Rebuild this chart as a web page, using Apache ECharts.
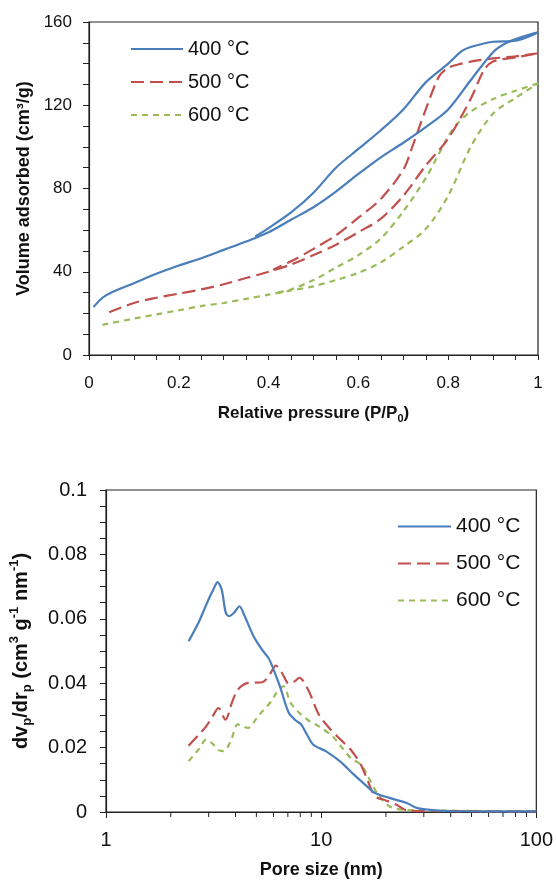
<!DOCTYPE html>
<html>
<head>
<meta charset="utf-8">
<script src="https://cdn.jsdelivr.net/npm/echarts@6/dist/echarts.min.js"></script>
<style>
  html, body { margin: 0; padding: 0; background: #fff; }
  #main { width: 556px; height: 880px; }
</style>
</head>
<body>
<div id="main"></div>
<script>
// --- isotherms (top) ---
var p400ads = [0.01,0.03,0.05,0.1,0.15,0.2,0.25,0.3,0.35,0.4,0.45,0.5,0.55,0.6,0.65,0.7,0.75,0.8,0.85,0.9,0.93,0.96,1.0];
var v400ads = [23,27.5,30,34.5,39,43,46.5,50.5,54.5,59,65,71,78.5,87,95,102,109.5,118,132,145.5,150,152.5,155];
var p400des = [1.0,0.95,0.9,0.85,0.83,0.8,0.75,0.7,0.65,0.6,0.55,0.5,0.45,0.4,0.37];
var v400des = [155,151,150.5,148,146,140,131,118,108,99,90,78,68.5,61,57];

var p500ads = [0.045,0.1,0.15,0.2,0.25,0.3,0.35,0.4,0.45,0.5,0.55,0.6,0.65,0.7,0.75,0.8,0.85,0.88,0.9,0.95,1.0];
var v500ads = [20.5,25,27.5,29.5,31.5,34,37,40,43.5,48,53,59,65.5,76.5,91,104,123,137,141,143,145];
var p500des = [1.0,0.95,0.9,0.85,0.83,0.8,0.78,0.75,0.72,0.7,0.65,0.6,0.55,0.5,0.45,0.41];
var v500des = [145,143.5,142.5,141,140,138,134,118,100,89,75,66,57.5,51,45,41];

var p600ads = [0.03,0.1,0.15,0.2,0.25,0.3,0.35,0.4,0.45,0.5,0.55,0.6,0.65,0.7,0.75,0.8,0.85,0.9,0.95,1.0];
var v600ads = [14.5,17.5,19.5,21.5,23.5,25,27,29,31,33,36,39.5,44.5,52,60.5,76.5,100,116,123.5,130.5];
var p600des = [1.0,0.95,0.9,0.85,0.82,0.8,0.75,0.7,0.65,0.6,0.55,0.5,0.45,0.42];
var v600des = [130.5,127,123,117,111,105,85,69,56,48,42,36,31.5,30];

// --- pore size distribution (bottom) ---
var d400 = [2.42,2.7,2.95,3.15,3.3,3.45,3.6,3.73,3.95,4.17,4.4,4.85,5.3,5.74,6.43,7.07,7.6,8.07,8.6,9.2,10.5,12.2,14.2,16,17.8,20.7,25,28,34,40,60,100];
var f400 = [0.053,0.059,0.065,0.069,0.0714,0.069,0.062,0.0608,0.062,0.0639,0.061,0.0546,0.0505,0.0474,0.039,0.0308,0.0285,0.0272,0.024,0.0209,0.0189,0.0158,0.0116,0.0085,0.0059,0.0044,0.0028,0.0012,0.0005,0.0003,0.0002,0.0002];
var d500 = [2.42,2.7,2.92,3.15,3.33,3.59,3.85,4.1,4.58,5.33,5.8,6.15,6.6,7.07,7.5,7.92,8.7,9.75,10.9,12.3,13.7,15.3,16.5,17.8,20,22.3,25,30,40,60,100];
var f500 = [0.0206,0.024,0.0266,0.03,0.0323,0.0287,0.034,0.038,0.0401,0.0403,0.043,0.0455,0.043,0.0399,0.0405,0.0417,0.038,0.0303,0.0261,0.0225,0.0194,0.0147,0.0095,0.0049,0.0036,0.0023,0.0005,0.0003,0.0003,0.0002,0.0002];
var d600 = [2.42,2.7,2.92,3.15,3.33,3.52,3.8,4.1,4.58,5.0,5.33,5.8,6.2,6.68,7.2,7.77,8.7,9.75,11.3,12.5,13.7,15.3,16.5,18.2,20.7,24,30,40,60,100];
var f600 = [0.0158,0.0195,0.0225,0.021,0.0192,0.0189,0.022,0.0272,0.0261,0.029,0.0313,0.034,0.037,0.0391,0.034,0.0313,0.0285,0.0266,0.0235,0.02,0.0168,0.0147,0.011,0.0059,0.0018,0.0007,0.0005,0.0004,0.0003,0.0003];
var logMinorTicks = [2,3,4,5,6,7,8,9,20,30,40,50,60,70,80,90];

var names = ['400 °C', '500 °C', '600 °C'];
var colors = ['#4a7ebb', '#c0504d', '#9bbb59'];
var dashes = ['solid', [13, 6], [6, 5]];

function zip(a, b) {
  var out = [];
  for (var i = 0; i < a.length; i++) out.push([a[i], b[i]]);
  return out;
}

function lineSeries(idx, xi, yi, data) {
  return {
    name: names[idx],
    type: 'line',
    xAxisIndex: xi,
    yAxisIndex: yi,
    data: data,
    smooth: 0.3,
    symbol: 'none',
    color: colors[idx],
    lineStyle: { color: colors[idx], width: 2.2, type: dashes[idx] },
    z: 3 - idx
  };
}

var axisCol = '#222';
var font = 'Liberation Sans, Arial, sans-serif';

var option = {
  animation: false,
  backgroundColor: '#fff',
  textStyle: { fontFamily: font, color: '#111' },
  grid: [
    { left: 89, right: 18, top: 22, height: 333, show: true, borderColor: axisCol, borderWidth: 1.2 },
    { left: 105, right: 16, top: 490, height: 322, show: true, borderColor: axisCol, borderWidth: 1.2 }
  ],
  legend: [
    {
      orient: 'vertical', left: 125, top: 34,
      itemWidth: 52, itemHeight: 20, itemGap: 13,
      itemStyle: { opacity: 0 },
      data: names,
      textStyle: { fontSize: 20, color: '#111', fontFamily: font }
    },
    {
      orient: 'vertical', left: 392, top: 511,
      itemWidth: 53, itemHeight: 20, itemGap: 16,
      itemStyle: { opacity: 0 },
      data: names,
      textStyle: { fontSize: 21, color: '#111', fontFamily: font }
    }
  ],
  xAxis: [
    {
      gridIndex: 0, type: 'value', min: 0, max: 1, interval: 0.2,
      axisLine: { lineStyle: { color: axisCol, width: 1.2 } },
      axisTick: { length: 5, lineStyle: { color: axisCol } },
      minorTick: { show: true, splitNumber: 4, length: 5, lineStyle: { color: axisCol } },
      splitLine: { show: false },
      axisLabel: { fontSize: 17, color: '#111', margin: 20 },
      name: '{b|Relative pressure (P/P}{s|0}{b|)}',
      nameLocation: 'middle', nameGap: 47, nameMoveOverlap: false,
      nameTextStyle: {
        rich: {
          b: { fontSize: 17, fontWeight: 'bold', color: '#111', lineHeight: 22, verticalAlign: 'middle' },
          s: { fontSize: 11, fontWeight: 'bold', color: '#111', lineHeight: 22, verticalAlign: 'bottom' }
        }
      }
    },
    {
      gridIndex: 1, type: 'log', logBase: 10, min: 1, max: 100,
      axisLine: { lineStyle: { color: axisCol, width: 1.2 } },
      axisTick: { length: 6, lineStyle: { color: axisCol } },
      splitLine: { show: false },
      axisLabel: { fontSize: 20, color: '#111', margin: 18 },
      name: 'Pore size (nm)',
      nameLocation: 'middle', nameGap: 49, nameMoveOverlap: false,
      nameTextStyle: { fontSize: 18, fontWeight: 'bold', color: '#111' }
    }
  ],
  yAxis: [
    {
      gridIndex: 0, type: 'value', min: 0, max: 160, interval: 40,
      axisLine: { show: true, lineStyle: { color: axisCol, width: 1.2 } },
      axisTick: { show: true, length: 6, lineStyle: { color: axisCol } },
      minorTick: { show: true, splitNumber: 4, length: 6, lineStyle: { color: axisCol } },
      splitLine: { show: false },
      axisLabel: { fontSize: 17, color: '#111', margin: 17 },
      name: 'Volume adsorbed (cm³/g)',
      nameLocation: 'middle', nameGap: 56, nameMoveOverlap: false,
      nameTextStyle: { fontSize: 18, fontWeight: 'bold', color: '#111' }
    },
    {
      gridIndex: 1, type: 'value', min: 0, max: 0.1, interval: 0.02,
      axisLine: { show: true, lineStyle: { color: axisCol, width: 1.2 } },
      axisTick: { show: true, length: 6, lineStyle: { color: axisCol } },
      minorTick: { show: true, splitNumber: 4, length: 6, lineStyle: { color: axisCol } },
      splitLine: { show: false },
      axisLabel: { fontSize: 20, color: '#111', margin: 19 },
      name: '{b|dv}{s|p}{b|/dr}{s|p}{b| (cm}{u|3}{b| g}{u|-1}{b| nm}{u|-1}{b|)}',
      nameLocation: 'middle', nameGap: 72, nameMoveOverlap: false,
      nameTextStyle: {
        rich: {
          b: { fontSize: 20, fontWeight: 'bold', color: '#111', lineHeight: 26, verticalAlign: 'middle' },
          s: { fontSize: 13, fontWeight: 'bold', color: '#111', lineHeight: 26, verticalAlign: 'bottom' },
          u: { fontSize: 13, fontWeight: 'bold', color: '#111', lineHeight: 26, verticalAlign: 'top' }
        }
      }
    }
  ],
  series: [
    lineSeries(0, 0, 0, zip(p400ads, v400ads)),
    lineSeries(0, 0, 0, zip(p400des, v400des)),
    lineSeries(1, 0, 0, zip(p500ads, v500ads)),
    lineSeries(1, 0, 0, zip(p500des, v500des)),
    lineSeries(2, 0, 0, zip(p600ads, v600ads)),
    lineSeries(2, 0, 0, zip(p600des, v600des)),
    lineSeries(0, 1, 1, zip(d400, f400)),
    lineSeries(1, 1, 1, zip(d500, f500)),
    lineSeries(2, 1, 1, zip(d600, f600)),
    {
      // minor ticks of the log axis at 2..9, 20..90
      type: 'custom',
      xAxisIndex: 1, yAxisIndex: 1,
      silent: true, clip: false,
      data: logMinorTicks.map(function (v) { return [v, 0]; }),
      renderItem: function (params, api) {
        var p = api.coord([api.value(0), 0]);
        return {
          type: 'line',
          shape: { x1: p[0], y1: p[1], x2: p[0], y2: p[1] + 5 },
          style: { stroke: axisCol, lineWidth: 1 }
        };
      }
    }
  ]
};

var myChart = echarts.init(document.getElementById('main'));
myChart.setOption(option);
</script>
</body>
</html>
